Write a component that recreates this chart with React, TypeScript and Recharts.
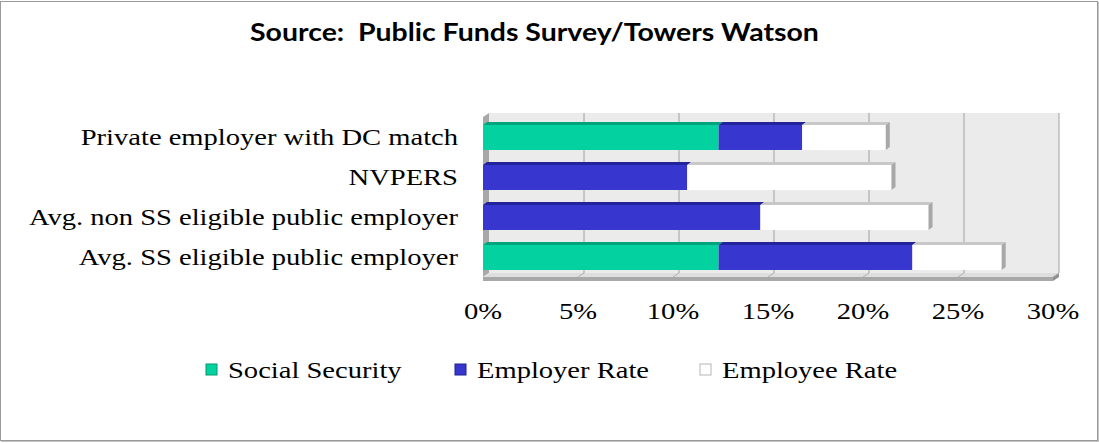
import React from 'react';
import { BarChart, Bar, XAxis, YAxis, ReferenceArea } from 'recharts';

const categories = [
  'Private employer with DC match',
  'NVPERS',
  'Avg. non SS eligible public employer',
  'Avg. SS eligible public employer',
];
const socialSecurity = [12.4, 0, 0, 12.4];
const employerRate = [4.4, 10.75, 14.6, 10.2];
const employeeRate = [4.4, 10.75, 8.85, 4.7];
const xTicks = [0, 5, 10, 15, 20, 25, 30];

const data = categories.map((name, i) => ({
  name,
  ss: socialSecurity[i],
  employer: employerRate[i],
  employee: employeeRate[i],
}));

const SERIF = '"Liberation Serif", "Times New Roman", serif';
const STRETCH = 1.19;
const DX = 4;
const DY = 3;

const makeBarShape = (top: string, side: string | null) => (props: any) => {
  const { x, y, width, height, fill } = props;
  if (!width || width <= 0) return <g />;
  return (
    <g>
      <rect x={x} y={y} width={width} height={height} fill={fill} />
      <polygon
        points={`${x},${y} ${x + DX},${y - DY} ${x + width + DX},${y - DY} ${x + width},${y}`}
        fill={top}
      />
      {side && (
        <polygon
          points={`${x + width},${y} ${x + width + DX},${y - DY} ${x + width + DX},${y + height - DY} ${x + width},${y + height}`}
          fill={side}
        />
      )}
    </g>
  );
};

const WallShape = (props: any) => {
  const { x, y, width, height } = props;
  const bx = 6;
  const by = 4;
  const b = y + height;
  const r = x + width;
  const lines = xTicks.map((t) => x + (width * t) / 30);
  return (
    <g>
      <rect x={x + bx} y={y - by} width={width} height={height} fill="#ebebeb" />
      <polygon points={`${x},${y} ${x + bx},${y - by} ${x + bx},${b - by} ${x},${b}`} fill="#a8a8a8" />
      <polygon points={`${x},${b} ${x + bx},${b - by} ${r + bx},${b - by} ${r},${b}`} fill="#dedede" />
      <rect x={x} y={b} width={width} height={4} fill="#a8a8a8" />
      <polygon points={`${r},${b} ${r + bx},${b - by} ${r + bx},${b} ${r},${b + 4}`} fill="#8f8f8f" />
      {lines.slice(1).map((lx, i) => (
        <g key={i}>
          <line x1={lx + bx} y1={y - by} x2={lx + bx} y2={b - by} stroke="#a0a0a0" strokeWidth={1} />
          <line x1={lx + bx} y1={b - by} x2={lx} y2={b} stroke="#b0b0b0" strokeWidth={1} />
        </g>
      ))}
    </g>
  );
};

const CategoryTick = (props: any) => {
  const { x, y, payload } = props;
  return (
    <g transform={`translate(${x},${y})`}>
      <text
        transform={`scale(${STRETCH},1)`}
        textAnchor="end"
        dy="0.33em"
        fontFamily={SERIF}
        fontSize={24}
        fill="#000"
      >
        {payload.value}
      </text>
    </g>
  );
};

const PercentTick = (props: any) => {
  const { x, y, payload } = props;
  return (
    <g transform={`translate(${x},${y + 42})`}>
      <text
        transform={`scale(${STRETCH},1)`}
        textAnchor="middle"
        fontFamily={SERIF}
        fontSize={24}
        fill="#000"
      >
        {`${payload.value}%`}
      </text>
    </g>
  );
};

const legendItems = [
  { label: 'Social Security', fill: '#03d1a0', stroke: '#02996f', x: 206 },
  { label: 'Employer Rate', fill: '#3737cf', stroke: '#20208f', x: 455 },
  { label: 'Employee Rate', fill: '#ffffff', stroke: '#b5b5b5', x: 700 },
];

const LegendRow = () => (
  <svg width={1099} height={40} style={{ position: 'absolute', left: 0, top: 352 }}>
    {legendItems.map((it) => (
      <g key={it.label}>
        <rect x={it.x} y={12} width={11} height={11} fill={it.fill} stroke={it.stroke} strokeWidth={1} />
        <g transform={`translate(${it.x + 22},26)`}>
          <text transform={`scale(${STRETCH},1)`} fontFamily={SERIF} fontSize={24} fill="#000">
            {it.label}
          </text>
        </g>
      </g>
    ))}
  </svg>
);

export default function App() {
  return (
    <div style={{ position: 'absolute', left: 0, top: 0, width: 1099, height: 443, background: '#fff' }}>
      <div
        style={{
          position: 'absolute',
          left: 0,
          top: 1,
          width: 1096,
          height: 438,
          border: '1px solid #9a9a9a',
          boxShadow: '1px 1px 0 #c4c4c4',
        }}
      />
      <div
        style={{
          position: 'absolute',
          left: 0,
          top: 17,
          width: 1099,
          textAlign: 'center',
          fontFamily: 'Lato, "Open Sans", sans-serif',
          fontWeight: 700,
          fontSize: 24,
          whiteSpace: 'pre',
          transform: 'translateX(-15px) scaleX(1.185)',
        }}
      >
        {'Source:  Public Funds Survey/Towers Watson'}
      </div>
      <div style={{ position: 'absolute', left: 0, top: 0 }}>
        <BarChart
          width={1099}
          height={443}
          data={data}
          layout="vertical"
          margin={{ top: 117, right: 46, bottom: 106, left: 0 }}
          barSize={25}
        >
          <XAxis
            type="number"
            domain={[0, 30]}
            ticks={xTicks}
            axisLine={false}
            tickLine={false}
            tickSize={0}
            tickMargin={0}
            tick={<PercentTick />}
            height={60}
            interval={0}
          />
          <YAxis
            type="category"
            dataKey="name"
            width={483}
            axisLine={false}
            tickLine={false}
            tickSize={0}
            tickMargin={25}
            tick={<CategoryTick />}
            interval={0}
          />
          <ReferenceArea x1={0} x2={30} shape={<WallShape />} ifOverflow="visible" zIndex={-200} />
          <Bar
            dataKey="ss"
            stackId="a"
            fill="#03d1a0"
            shape={makeBarShape('#01a37c', null)}
            isAnimationActive={false}
          />
          <Bar
            dataKey="employer"
            stackId="a"
            fill="#3737cf"
            shape={makeBarShape('#23239a', null)}
            isAnimationActive={false}
          />
          <Bar
            dataKey="employee"
            stackId="a"
            fill="#ffffff"
            shape={makeBarShape('#c8c8c8', '#a8a8a8')}
            isAnimationActive={false}
          />
        </BarChart>
      </div>
      <LegendRow />
    </div>
  );
}
